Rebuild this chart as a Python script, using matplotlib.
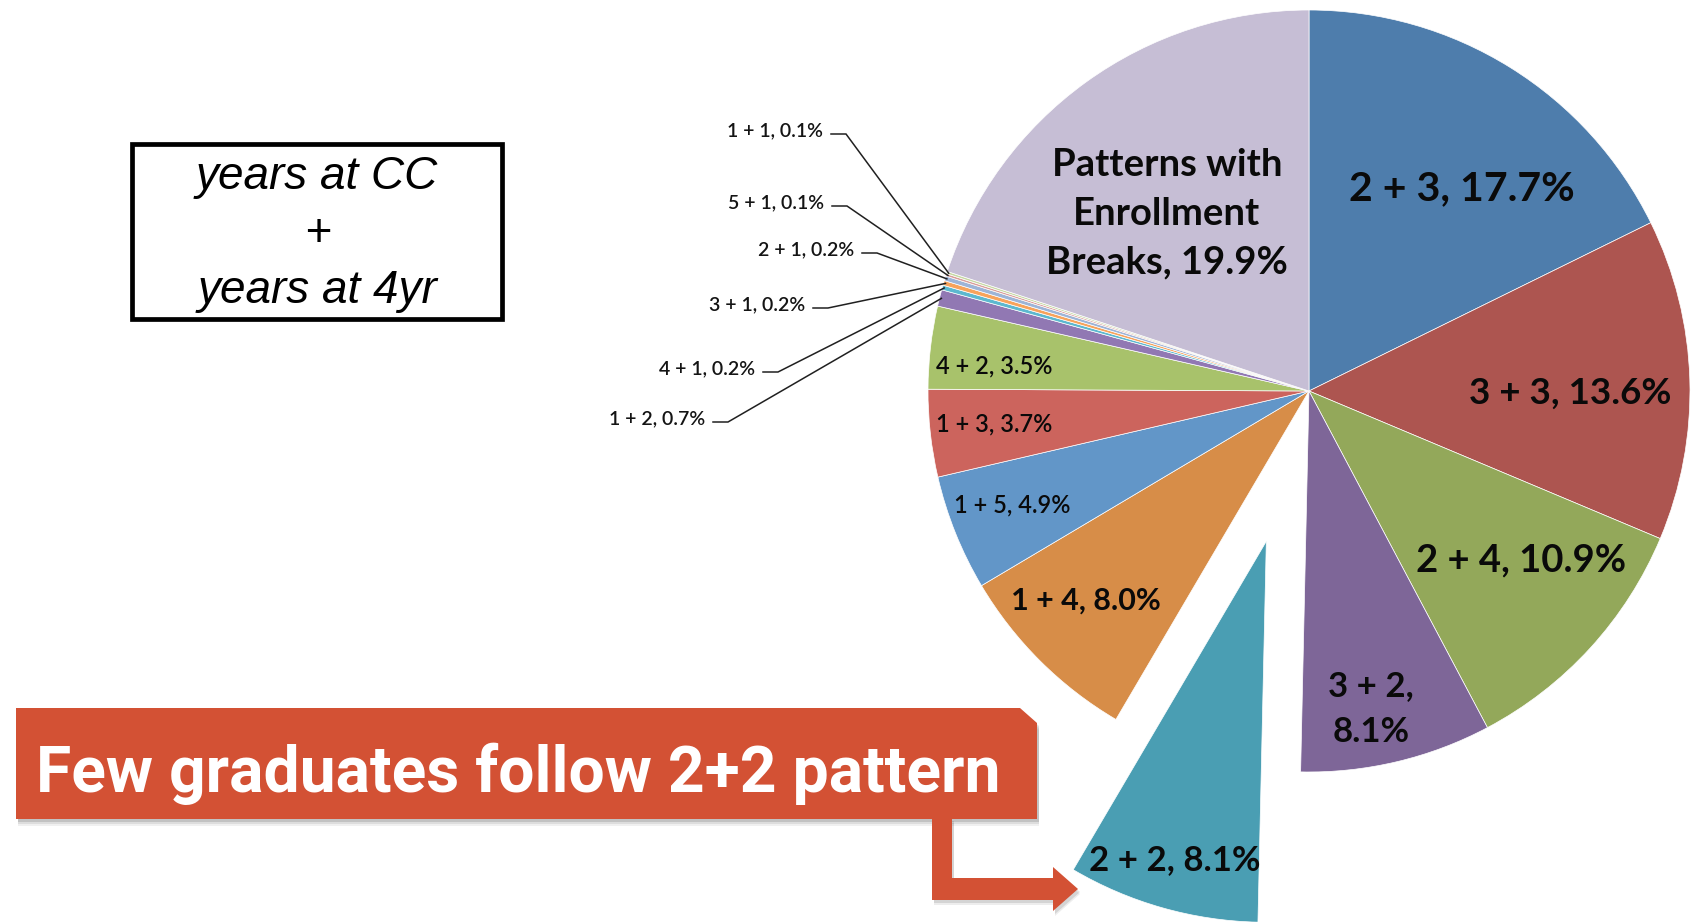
import matplotlib
matplotlib.use("Agg")
import matplotlib.pyplot as plt
import numpy as np
from matplotlib.patches import Rectangle, Polygon

# ---- data -------------------------------------------------------------
patterns = ["2 + 3", "3 + 3", "2 + 4", "3 + 2", "2 + 2", "1 + 4", "1 + 5",
            "1 + 3", "4 + 2", "1 + 2", "4 + 1", "3 + 1", "2 + 1", "5 + 1",
            "1 + 1", "Patterns with\nEnrollment\nBreaks"]
shares = [17.7, 13.6, 10.9, 8.1, 8.1, 8.0, 4.9,
          3.7, 3.5, 0.7, 0.2, 0.2, 0.2, 0.1,
          0.1, 19.9]
slice_colors = ["#4E7DAC", "#AD5550", "#93A85A", "#7E6698", "#4A9EB3",
                "#D78D48", "#6296C8", "#CC645D", "#A8C26B", "#9178B3",
                "#5CB8CF", "#F7A35B", "#9DB4D7", "#D99C9A", "#C7D8A3",
                "#C6BED5"]
highlight = "2 + 2"
legend_lines = ["years at CC", "+", "years at 4yr"]
banner_text = "Few graduates follow 2+2 pattern"

# ---- layout (pixel space, y measured from the top) --------------------
W, H = 1703, 922
CX, CY, R = 1309, 391, 381


def Y(y):
    return H - y


# inside labels: centre position, font size, weight
inside_style = {
    "2 + 3": ((1462, 189), 29.5, "bold"),
    "3 + 3": ((1570, 393), 26.5, "bold"),
    "2 + 4": ((1521, 560), 27.5, "bold"),
    "3 + 2": ((1371, 709), 25, "bold"),
    "2 + 2": ((1175, 860), 25, "bold"),
    "1 + 4": ((1086, 601), 22, "bold"),
    "1 + 5": ((1012, 505), 17, "semibold"),
    "1 + 3": ((994, 424), 17, "semibold"),
    "4 + 2": ((994, 366), 17, "semibold"),
    "Patterns with\nEnrollment\nBreaks": ((1167, 214), 27.5, "bold"),
}
# outside labels: left end of the short horizontal leader tick
outside_anchor = {
    "1 + 1": (831, 134),
    "5 + 1": (832, 206),
    "2 + 1": (862, 253),
    "3 + 1": (813, 308),
    "4 + 1": (763, 372),
    "1 + 2": (713, 422),
}
wrap_after_comma = {"3 + 2"}

LABEL_FONT = ["Lato", "DejaVu Sans"]
BOX_FONT = ["Liberation Sans", "DejaVu Sans"]
BANNER_FONT = ["Roboto", "Liberation Sans", "DejaVu Sans"]
RED = "#D35134"

fig = plt.figure(figsize=(W / 100, H / 100), dpi=100)
ax = fig.add_axes([0, 0, 1, 1])

explode = [0.41 * R if p == highlight else 0 for p in patterns]
wedges, _ = ax.pie(shares, colors=slice_colors, startangle=90,
                   counterclock=False, center=(CX, Y(CY)), radius=R,
                   explode=explode,
                   wedgeprops=dict(edgecolor="white", linewidth=0.5))
ax.set_xlim(0, W)
ax.set_ylim(0, H)
ax.set_aspect("equal")
ax.axis("off")


def label_text(name, share):
    sep = ",\n" if name in wrap_after_comma else ", "
    return f"{name}{sep}{share:.1f}%"


for name, share, w in zip(patterns, shares, wedges):
    txt = label_text(name, share)
    if name in inside_style:
        (x, y), size, weight = inside_style[name]
        ax.text(x, Y(y), txt, ha="center", va="center", ma="center",
                fontsize=size, fontweight=weight, family=LABEL_FONT,
                color="#0A0A0A", linespacing=1.52)
    else:
        ex, ey = outside_anchor[name]
        mid = np.deg2rad(0.5 * (w.theta1 + w.theta2))
        px = w.center[0] + 0.995 * w.r * np.cos(mid)
        py = w.center[1] + 0.995 * w.r * np.sin(mid)
        ax.plot([ex, ex + 15, px], [Y(ey), Y(ey), py], color="#202020",
                lw=1.1, solid_joinstyle="miter")
        ax.text(ex - 8, Y(ey - 3), txt, ha="right", va="center",
                fontsize=14, fontweight="semibold", family=LABEL_FONT,
                color="#141414")

# boxed key explaining the label format
ax.add_patch(Rectangle((132, Y(319)), 370, 175, facecolor="white",
                       edgecolor="black", lw=3.4))
for line, yy in zip(legend_lines, [177, 234, 291]):
    ax.text(317, Y(yy), line, ha="center", va="center", fontsize=33,
            style="italic", family=BOX_FONT, color="black")

# call-out banner with soft shadow
banner = [(16, 708), (1020, 708), (1037, 723), (1037, 819), (16, 819)]
for k, a in zip([7, 5, 3], [0.06, 0.08, 0.12]):
    ax.add_patch(Polygon([(x + 2, Y(y + k)) for x, y in banner],
                         closed=True, facecolor="black", edgecolor="none",
                         alpha=a))
ax.add_patch(Polygon([(x, Y(y)) for x, y in banner], closed=True,
                     facecolor=RED, edgecolor="none"))
ax.text(36, Y(792), banner_text, ha="left", va="baseline", fontsize=46.2,
        fontweight="bold", family=BANNER_FONT, color="white")

# elbow arrow pointing at the highlighted slice
arrow = [(932, 818), (952, 818), (952, 878), (1053, 878), (1053, 867),
         (1078, 889), (1053, 911), (1053, 900), (932, 900)]
for k, a in zip([5, 3], [0.07, 0.10]):
    ax.add_patch(Polygon([(x + 2, Y(y + k)) for x, y in arrow], closed=True,
                         facecolor="black", edgecolor="none", alpha=a))
ax.add_patch(Polygon([(x, Y(y)) for x, y in arrow], closed=True,
                     facecolor=RED, edgecolor="none"))

fig.savefig("out.png", dpi=100, facecolor="white")
